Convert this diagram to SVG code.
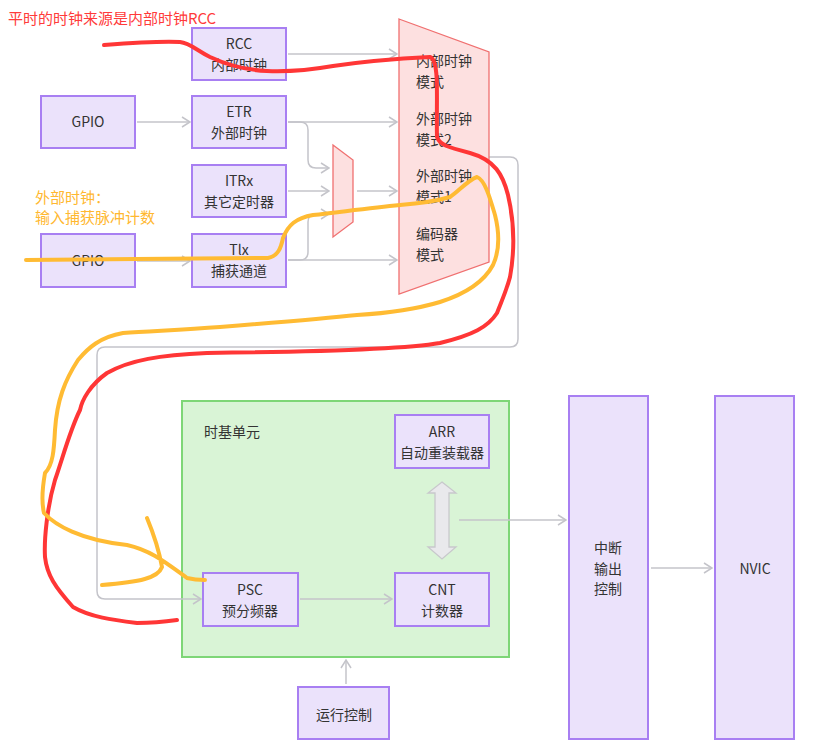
<svg xmlns="http://www.w3.org/2000/svg" width="835" height="749" viewBox="0 0 835 749">
<defs>
<marker id="ah" markerWidth="10" markerHeight="12" refX="9" refY="6" orient="auto" markerUnits="userSpaceOnUse">
<path d="M1,1 L9,6 L1,11" fill="none" stroke="#c4c4ca" stroke-width="1.5"/>
</marker>
<style>
.node{fill:#ebe2fb;stroke:#a87ff2;stroke-width:2}
.t{font-family:"Noto Sans CJK SC","Noto Sans",sans-serif;font-size:14px;fill:#333}
.c{text-anchor:middle}
.ln{fill:none;stroke:#c4c4ca;stroke-width:1.5}
.trap{fill:#fde0e0;stroke:#f07070;stroke-width:1.3}
.note{font-family:"Noto Sans CJK SC","Noto Sans",sans-serif;font-size:15px}
.red{fill:none;stroke:#ff3636;stroke-width:4;stroke-linecap:round;stroke-linejoin:round}
.org{fill:none;stroke:#ffbb33;stroke-width:4;stroke-linecap:round;stroke-linejoin:round}
</style>
</defs>
<rect width="835" height="749" fill="#ffffff"/>

<g id="timebase">
<rect x="182" y="401" width="327" height="256" fill="#d9f4d6" stroke="#7ed677" stroke-width="2"/>
<text class="t" x="204" y="437">时基单元</text>
</g>

<g id="connectors">
<path class="ln" d="M288,54 H397" marker-end="url(#ah)"/>
<path class="ln" d="M137,122 H190" marker-end="url(#ah)"/>
<path class="ln" d="M288,122 H397" marker-end="url(#ah)"/>
<path class="ln" d="M288,122 H300 Q308,122 308,130 V160 Q308,168 316,168 H329" marker-end="url(#ah)"/>
<path class="ln" d="M288,191 H329" marker-end="url(#ah)"/>
<path class="ln" d="M357,191 H397" marker-end="url(#ah)"/>
<path class="ln" d="M288,260 H300 Q308,260 308,252 V222 Q308,214 316,214 H329" marker-end="url(#ah)"/>
<path class="ln" d="M288,260 H397" marker-end="url(#ah)"/>
<path class="ln" d="M137,261 H190" marker-end="url(#ah)"/>
<path class="ln" d="M489,157 H510 Q518,157 518,165 V339 Q518,347 510,347 H105 Q97,347 97,355 V591 Q97,599 105,599 H201" marker-end="url(#ah)"/>
<path class="ln" d="M300,599 H392" marker-end="url(#ah)"/>
<path class="ln" d="M459,520 H566" marker-end="url(#ah)"/>
<path class="ln" d="M651,568 H712" marker-end="url(#ah)"/>
<path class="ln" d="M346,684 V660" marker-end="url(#ah)"/>
</g>

<g id="RCC"><rect class="node" x="192" y="28" width="94" height="52"/><text class="t c" x="239" y="49">RCC</text><text class="t c" x="239" y="70">内部时钟</text></g>
<g id="ETR"><rect class="node" x="192" y="96" width="94" height="52"/><text class="t c" x="239" y="117">ETR</text><text class="t c" x="239" y="138">外部时钟</text></g>
<g id="GPIO1"><rect class="node" x="41" y="96" width="94" height="52"/><text class="t c" x="88" y="127">GPIO</text></g>
<g id="ITRx"><rect class="node" x="192" y="165" width="94" height="52"/><text class="t c" x="239" y="186">ITRx</text><text class="t c" x="239" y="207">其它定时器</text></g>
<g id="TIx"><rect class="node" x="192" y="234" width="94" height="53"/><text class="t c" x="239" y="255">Tlx</text><text class="t c" x="239" y="276">捕获通道</text></g>
<g id="GPIO2"><rect class="node" x="41" y="234" width="94" height="53"/><text class="t c" x="88" y="266">GPIO</text></g>

<g id="mux1"><polygon class="trap" points="333,145 353,160 353,222 333,237"/></g>
<g id="mux2">
<polygon class="trap" points="399,19 489,52 489,262 399,294"/>
<text class="t" x="416" y="66">内部时钟</text><text class="t" x="416" y="87">模式</text>
<text class="t" x="416" y="124">外部时钟</text><text class="t" x="416" y="145">模式2</text>
<text class="t" x="416" y="181">外部时钟</text><text class="t" x="416" y="202">模式1</text>
<text class="t" x="416" y="239">编码器</text><text class="t" x="416" y="260">模式</text>
</g>

<g id="ARR"><rect class="node" x="395" y="415" width="94" height="53"/><text class="t c" x="442" y="437">ARR</text><text class="t c" x="442" y="458">自动重装载器</text></g>
<g id="PSC"><rect class="node" x="203" y="573" width="95" height="53"/><text class="t c" x="250" y="595">PSC</text><text class="t c" x="250" y="616">预分频器</text></g>
<g id="CNT"><rect class="node" x="395" y="573" width="94" height="53"/><text class="t c" x="442" y="595">CNT</text><text class="t c" x="442" y="616">计数器</text></g>
<g id="dbl"><polygon points="442,482 456,493 449,493 449,547 456,547 442,559 428,547 435,547 435,493 428,493" fill="#e9e9ec" stroke="#c8c8cc" stroke-width="1.3"/></g>

<g id="IRQ"><rect class="node" x="569" y="396" width="79" height="343"/><text class="t c" x="608" y="553">中断</text><text class="t c" x="608" y="574">输出</text><text class="t c" x="608" y="594">控制</text></g>
<g id="NVIC"><rect class="node" x="715" y="396" width="79" height="343"/><text class="t c" x="755" y="574">NVIC</text></g>
<g id="RUN"><rect class="node" x="298" y="687" width="91" height="52"/><text class="t c" x="344" y="720">运行控制</text></g>

<g id="notes">
<text class="note" x="8" y="24" fill="#ff3a3a">平时的时钟来源是内部时钟RCC</text>
<text class="note" x="35" y="203" fill="#ffb830">外部时钟：</text>
<text class="note" x="35" y="223" fill="#ffb830">输入捕获脉冲计数</text>
<path class="red" d="M104,45 C130,43 160,41 180,42 C190,43 196,50 210,57 C225,64 245,70 267,71 C290,72 310,70 333,66 C360,62 390,59 430,57 C440,60 436,100 437,137 C440,145 447,147 470,153 C495,160 503,175 508,195 C515,225 514,255 510,277 C506,292 502,300 497,313 C488,327 473,335 440,343 C400,350 300,352 207,353 C160,355 130,360 107,373 C90,385 82,400 80,410 C70,430 63,457 55,480 C47,507 44,540 45,557 C47,575 55,587 73,607 C90,617 113,620 137,623 C155,623 170,621 177,620"/>
<path class="org" d="M26,260 C100,259 200,259 268,258 C278,256 281,248 283,238 C288,225 296,218 313,215 C340,212 370,208 400,205 C425,203 440,200 450,197 C458,192 468,180 477,177 C485,180 490,198 495,215 C500,235 499,252 493,265 C485,280 468,293 440,302 C420,308 390,313 357,315 C320,319 270,323 220,327 C180,330 150,331 123,333 C100,337 88,348 78,360 C65,380 57,400 55,430 C54,450 53,465 45,473 C42,490 42,505 44,513 C55,525 80,540 127,545 C150,550 165,562 187,578 C195,580 200,580 205,580 M147,518 C152,530 158,545 162,567 C158,578 140,582 102,585"/>
</g>
</svg>
